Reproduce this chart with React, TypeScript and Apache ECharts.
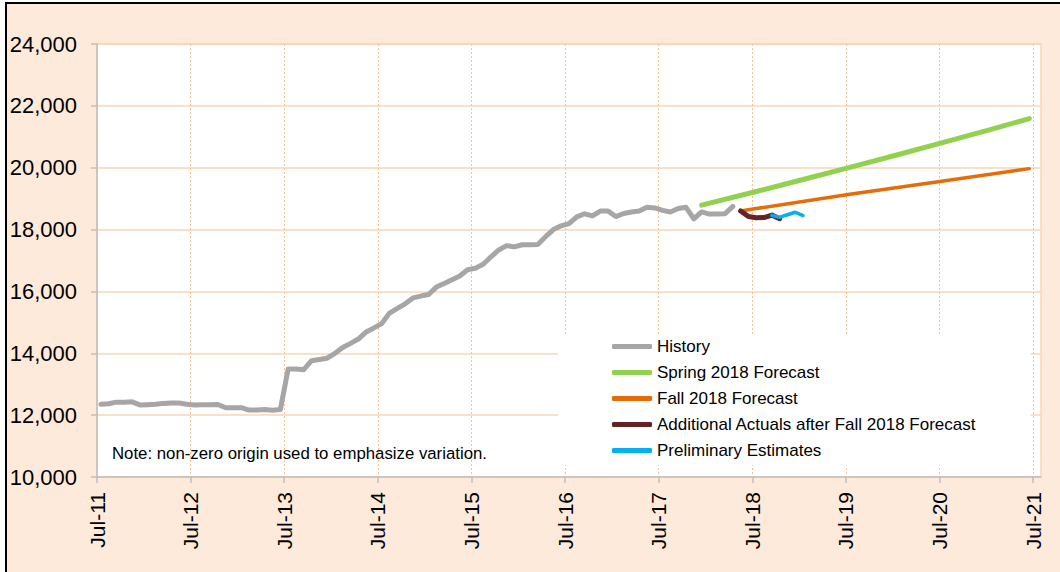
import React, { useEffect, useRef } from "react";
import * as echarts from "echarts";

// ---- Data (month index 0 = Jul-11; points plotted at mid-month) ----
const yearTickMonths = [0, 12, 24, 36, 48, 60, 72, 84, 96, 108, 120];
const yearTickLabels = ["Jul-11", "Jul-12", "Jul-13", "Jul-14", "Jul-15", "Jul-16", "Jul-17", "Jul-18", "Jul-19", "Jul-20", "Jul-21"];
const yTicks = [10000, 12000, 14000, 16000, 18000, 20000, 22000, 24000];

const historyStart = 0;
const historyValues = [
  12350, 12370, 12420, 12420, 12430, 12330, 12340, 12350, 12380, 12390, 12390, 12350,
  12330, 12340, 12340, 12345, 12240, 12240, 12240, 12165, 12170, 12180, 12160, 12180,
  13490, 13490, 13470, 13760, 13800, 13840, 14000, 14190, 14320, 14460, 14690, 14820,
  14960, 15300, 15450, 15600, 15790, 15850, 15900, 16140, 16260, 16380, 16500, 16700,
  16750, 16880, 17120, 17340, 17480, 17440, 17510, 17510, 17520, 17770, 18000, 18120,
  18190, 18410, 18510, 18440, 18600, 18600, 18420, 18520, 18570, 18600, 18720, 18700,
  18620, 18570, 18680, 18720, 18350, 18570, 18500, 18500, 18510, 18750,
];

const springMonths = [77, 84, 90, 96, 102, 108, 114, 119];
const springValues = [18790, 19230, 19620, 20010, 20410, 20820, 21230, 21590];

const fallMonths = [82, 84, 96, 108, 119];
const fallValues = [18600, 18680, 19140, 19570, 19970];

const actualsMonths = [82, 83, 84, 85, 86, 87];
const actualsValues = [18600, 18420, 18380, 18390, 18470, 18350];

const prelimMonths = [86, 87, 88, 89, 90];
const prelimValues = [18460, 18400, 18480, 18560, 18450];

const seriesNames = [
  "History",
  "Spring 2018 Forecast",
  "Fall 2018 Forecast",
  "Additional Actuals after Fall 2018 Forecast",
  "Preliminary Estimates",
];
const seriesColors = ["#A6A6A6", "#92D050", "#E46C0A", "#632523", "#00B0F0"];
const seriesWidths = [5, 5, 3.5, 5, 3.5];

const noteText = "Note: non-zero origin used to emphasize variation.";

const FONT = "'Liberation Sans', Arial, sans-serif";

function pairs(months: number[], values: number[]) {
  return values.map((v, i) => [months[i] + 0.5, v]);
}

export default function App() {
  const ref = useRef<HTMLDivElement>(null);

  useEffect(() => {
    if (!ref.current) return;
    const chart = echarts.init(ref.current, null, { renderer: "svg" });

    const historyData = historyValues.map((v, i) => [historyStart + i + 0.5, v]);
    const datasets = [
      historyData,
      pairs(springMonths, springValues),
      pairs(fallMonths, fallValues),
      pairs(actualsMonths, actualsValues),
      pairs(prelimMonths, prelimValues),
    ];

    chart.setOption({
      animation: false,
      textStyle: { fontFamily: FONT },
      grid: {
        left: 97,
        top: 44,
        right: 19,
        bottom: 95,
        show: true,
        backgroundColor: "#FFFFFF",
        borderColor: "#FBD5B5",
        borderWidth: 1.5,
      },
      legend: {
        orient: "vertical",
        left: 558,
        top: 334,
        data: seriesNames.map((n) => ({ name: n, icon: "roundRect" })),
        itemWidth: 40,
        itemHeight: 5,
        itemGap: 9,
        padding: [4, 54, 6, 54],
        backgroundColor: "#FFFFFF",
        textStyle: { fontSize: 17, color: "#000", fontFamily: FONT },
        selectedMode: false,
      },
      xAxis: {
        type: "value",
        min: 0,
        max: 121,
        interval: 12,
        axisLine: { show: true, lineStyle: { color: "#BFBFBF", width: 1.5 } },
        axisTick: {
          show: true,
          length: 6,
          customValues: yearTickMonths,
          lineStyle: { color: "#BFBFBF", width: 1.5 },
        },
        axisLabel: {
          customValues: yearTickMonths,
          rotate: 90,
          margin: 15,
          fontSize: 21,
          color: "#000",
          fontFamily: FONT,
          padding: [8, 0, 0, 0],
          formatter: (v: number) => {
            const idx = yearTickMonths.indexOf(Math.round(v));
            return idx >= 0 && Math.abs(v - Math.round(v)) < 1e-6 ? yearTickLabels[idx] : "";
          },
        },
        splitLine: {
          show: true,
          lineStyle: { color: "#FAC090", width: 1, type: [2, 2] },
        },
      },
      yAxis: {
        type: "value",
        min: yTicks[0],
        max: yTicks[yTicks.length - 1],
        interval: 2000,
        axisLine: { show: true, lineStyle: { color: "#BFBFBF", width: 1.5 } },
        axisTick: { show: true, length: 6, lineStyle: { color: "#BFBFBF", width: 1.5 } },
        axisLabel: {
          margin: 20,
          fontSize: 22,
          color: "#000",
          fontFamily: FONT,
          formatter: (v: number) => v.toLocaleString("en-US"),
        },
        splitLine: { show: true, lineStyle: { color: "#FBD5B5", width: 1.5 } },
      },
      graphic: [
        {
          type: "text",
          left: 112,
          top: 445,
          style: { text: noteText, fontSize: 16.8, fill: "#000", fontFamily: FONT },
          z: 10,
        },
      ],
      series: datasets.map((d, i) => ({
        name: seriesNames[i],
        type: "line",
        data: d,
        showSymbol: false,
        symbol: "none",
        color: seriesColors[i],
        lineStyle: { color: seriesColors[i], width: seriesWidths[i], cap: "round", join: "round" },
        z: 3 + i,
      })),
    });

    return () => chart.dispose();
  }, []);

  return (
    <div style={{ position: "fixed", left: 0, top: 0, width: 1060, height: 572, background: "#FFFFFF", overflow: "hidden" }}>
      <div
        style={{
          position: "absolute",
          left: 5,
          top: 2,
          width: 1060,
          height: 580,
          background: "#FDEADA",
          borderLeft: "2px solid #000",
          borderTop: "2px solid #000",
        }}
      />
      <div ref={ref} style={{ position: "absolute", left: 0, top: 0, width: 1060, height: 572 }} />
    </div>
  );
}
